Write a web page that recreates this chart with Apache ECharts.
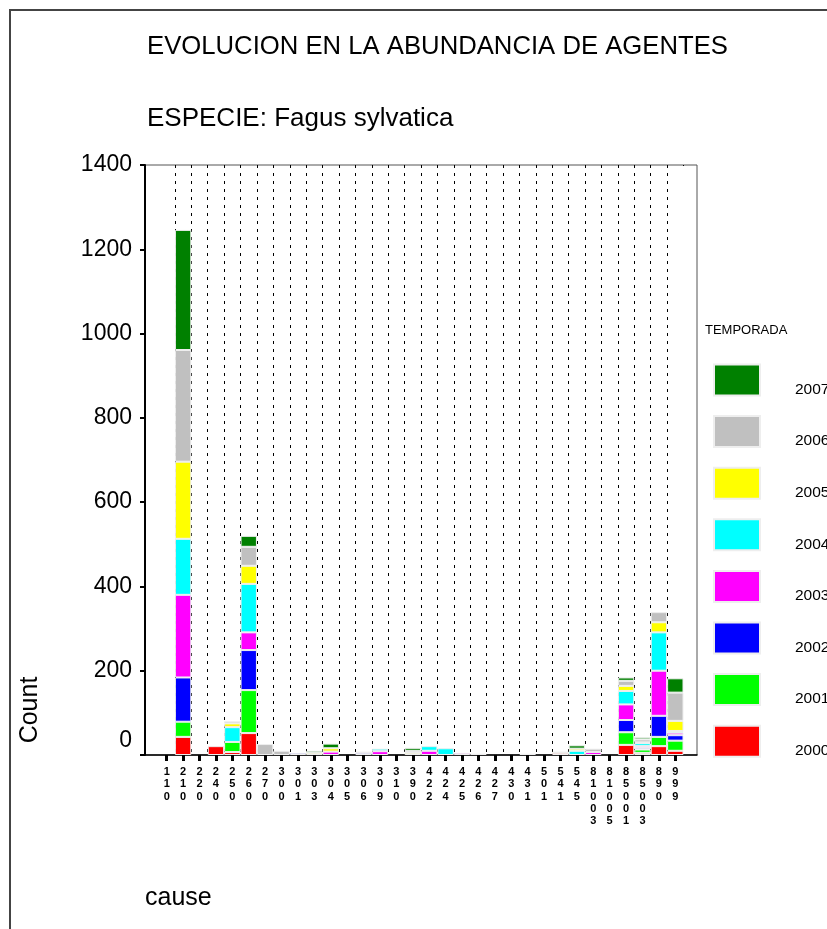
<!DOCTYPE html>
<html>
<head>
<meta charset="utf-8">
<script src="https://cdn.jsdelivr.net/npm/echarts@6/dist/echarts.min.js"></script>
<style>
html,body{margin:0;padding:0;background:#fff;}
#chart{width:827px;height:929px;}
</style>
</head>
<body>
<div id="chart"></div>
<script>
const categories = ['110','210','220','240','250','260','270','300','301','303','304','305','306','309','310','390','422','424','425','426','427','430','431','501','541','545','81003','81005','85001','85003','890','999'];
const seasons = ['2000','2001','2002','2003','2004','2005','2006','2007'];
const seasonColors = ['#ff0000','#00ff00','#0000ff','#ff00ff','#00ffff','#ffff00','#c0c0c0','#008000'];
const yTicks = [0,200,400,600,800,1000,1200,1400];

const v2000 = [0,43,0,21,7,52,0,0,0,0,0,0,0,0,0,0,0,0,0,0,0,0,0,0,5,0,0,0,24,5,21,10];
const v2001 = [0,36,0,0,24,102,0,0,0,0,0,0,0,0,0,0,0,0,0,0,0,0,0,0,0,0,0,0,30,8,22,24];
const v2002 = [0,105,0,0,0,95,0,0,5,0,0,0,5,0,0,0,0,0,0,0,0,0,3,0,0,0,0,0,29,4,50,13];
const v2003 = [0,196,0,0,0,42,0,0,0,0,8,0,3,9,0,0,10,0,5,3,0,0,0,0,0,0,7,0,37,4,107,6];
const v2004 = [0,133,0,0,35,115,0,0,0,0,0,0,0,6,0,0,11,16,0,0,0,0,0,0,0,10,0,0,32,7,91,4];
const v2005 = [0,183,0,0,9,43,0,0,0,5,8,0,0,0,0,5,0,0,0,0,0,0,0,0,3,5,0,0,12,2,24,24];
const v2006 = [0,265,0,0,5,45,26,10,0,0,0,0,0,0,0,5,0,0,0,0,0,0,0,0,0,0,8,0,12,7,24,67];
const v2007 = [0,285,0,0,0,26,0,0,0,5,11,0,0,0,0,7,0,0,0,0,0,0,0,0,0,8,0,0,8,5,0,34];
const seriesValues = [v2000,v2001,v2002,v2003,v2004,v2005,v2006,v2007];

const FONT = 'Liberation Sans, Arial, sans-serif';
const chart = echarts.init(document.getElementById('chart'));

const series = seasons.map((s, i) => ({
  name: s,
  type: 'bar',
  stack: 'total',
  xAxisIndex: 1,
  yAxisIndex: 1,
  barWidth: '100%',
  z: 5,
  itemStyle: { color: seasonColors[i], borderColor: '#eeeeee', borderWidth: 1 },
  emphasis: { disabled: true },
  data: seriesValues[i].map(v => (v === 0 ? '-' : v))
}));

const nCat = categories.length;

chart.setOption({
  animation: false,
  backgroundColor: '#fff',
  title: [
    { text: 'EVOLUCION EN LA ABUNDANCIA DE AGENTES', left: 142, top: 29,
      textStyle: { fontFamily: FONT, fontSize: 25.7, fontWeight: 'normal', color: '#000' } },
    { text: 'ESPECIE: Fagus sylvatica', left: 142, top: 101,
      textStyle: { fontFamily: FONT, fontSize: 26, fontWeight: 'normal', color: '#000' } }
  ],
  graphic: [
    { type: 'rect', silent: true, z: 100, shape: { x: 10, y: 10, width: 900, height: 1000 },
      style: { fill: 'none', stroke: '#444', lineWidth: 2 } },
    /* hides the dashed rule on the plot's outer right edge (the reference has none there) */
    { type: 'rect', silent: true, z: 3, shape: { x: 682.5, y: 166, width: 3, height: 588 },
      style: { fill: '#fff' } },
    { type: 'text', x: 30, y: 710, rotation: Math.PI / 2, z: 100,
      style: { text: 'Count', font: '25px ' + FONT, fill: '#000', textAlign: 'center', textVerticalAlign: 'middle' } },
    { type: 'text', x: 145, y: 898, z: 100,
      style: { text: 'cause', font: '25px ' + FONT, fill: '#000', textAlign: 'left', textVerticalAlign: 'middle' } },
    { type: 'text', x: 705, y: 330, z: 100,
      style: { text: 'TEMPORADA', font: '13px ' + FONT, fill: '#000', textAlign: 'left', textVerticalAlign: 'middle' } }
  ],
  legend: {
    orient: 'vertical',
    left: 713,
    top: 363.5,
    padding: 0,
    itemWidth: 46,
    itemHeight: 31,
    itemGap: 17.6,
    icon: 'rect',
    selectedMode: false,
    data: seasons.slice().reverse(),
    formatter: '{a|{name}}',
    textStyle: {
      rich: { a: { fontFamily: FONT, fontSize: 15.5, color: '#000', height: 15, padding: [15, 0, -4, 30] } }
    }
  },
  grid: [
    { left: 145, top: 165, width: 552, height: 590, show: true, borderColor: '#555', borderWidth: 1, backgroundColor: 'transparent' },
    { left: 158.5, top: 165, width: 525, height: 590 }
  ],
  xAxis: [
    { type: 'value', gridIndex: 0, min: 0, max: 1,
      axisLine: { show: true, onZero: false, lineStyle: { color: '#000', width: 1.5 } },
      axisTick: { show: false }, axisLabel: { show: false }, splitLine: { show: false } },
    { type: 'category', gridIndex: 1, data: categories,
      axisLine: { show: false },
      axisTick: { show: true, alignWithLabel: true, length: 6, lineStyle: { color: '#000', width: 3 } },
      axisLabel: {
        interval: 0, margin: 11, color: '#000', fontFamily: FONT, fontSize: 11, fontWeight: 'bold', lineHeight: 12.3,
        formatter: v => v.split('').join('\n')
      },
      splitLine: {
        show: true,
        interval: (idx) => idx > 0 && idx < nCat,
        lineStyle: { color: '#000', width: 1, type: [3, 5] }
      }
    }
  ],
  yAxis: [
    { type: 'value', gridIndex: 0, min: yTicks[0], max: yTicks[yTicks.length - 1], interval: 200,
      axisLine: { show: true, lineStyle: { color: '#000', width: 2 } },
      axisTick: { show: true, length: 5, lineStyle: { color: '#000', width: 2 } },
      axisLabel: {
        margin: 13, color: '#000', fontFamily: FONT, fontSize: 23,
        formatter: v => (v === 0 ? '{z|0}' : String(v)),
        rich: { z: { fontFamily: FONT, fontSize: 23, color: '#000', padding: [0, 0, 28, 0] } }
      },
      splitLine: { show: false } },
    { type: 'value', gridIndex: 1, min: yTicks[0], max: yTicks[yTicks.length - 1], show: false,
      splitLine: { show: false } }
  ],
  series: series
});
</script>
</body>
</html>
